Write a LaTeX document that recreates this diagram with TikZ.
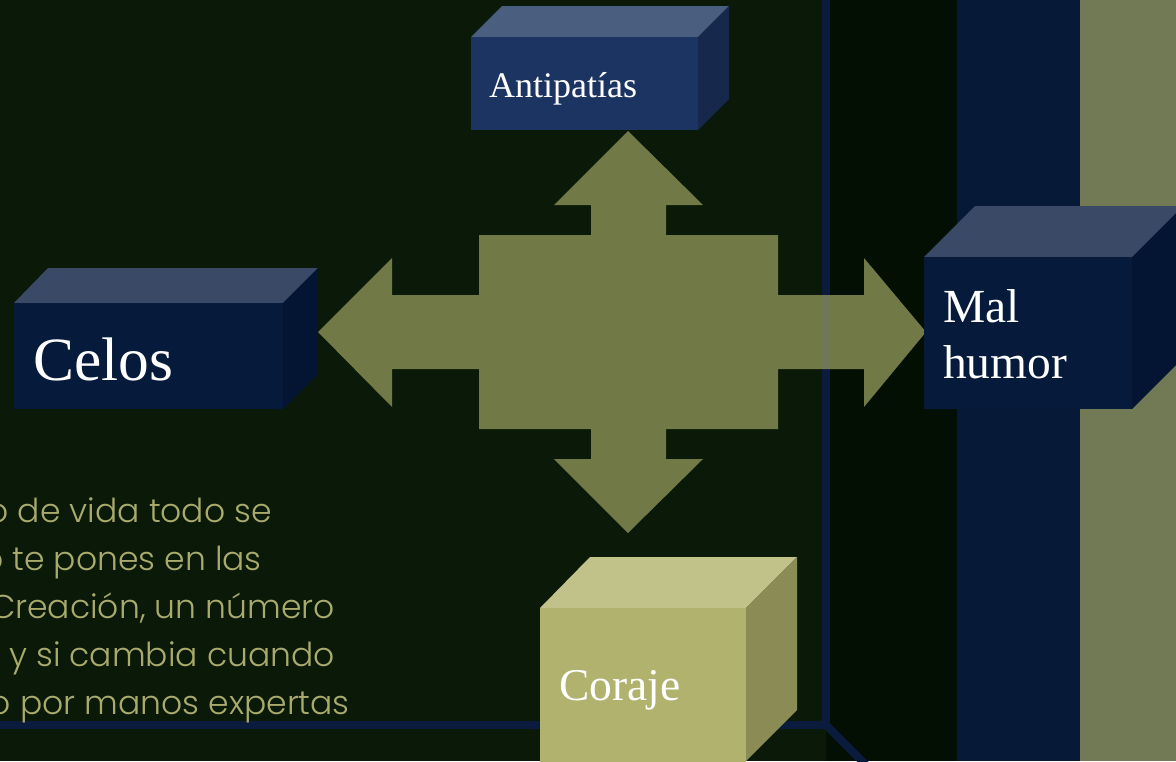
\documentclass[tikz,border=0pt]{standalone}
\usepackage{fontspec}
\newfontfamily\bodyfont{Poppins Light}
\newfontfamily\headfont{Liberation Serif}
\definecolor{bggreen}{HTML}{0A1908}
\definecolor{bgdark}{HTML}{040F04}
\definecolor{lineblue}{HTML}{0A1B3E}
\definecolor{stripeblue}{HTML}{061A38}
\definecolor{stripeolive}{HTML}{727A55}
\definecolor{arrowol}{HTML}{717946}
\definecolor{arrowline}{HTML}{6F7756}
\definecolor{bodytxt}{HTML}{A9AB6C}
\definecolor{aFront}{HTML}{1B3461}
\definecolor{aTop}{HTML}{4A5E80}
\definecolor{aSide}{HTML}{16294D}
\definecolor{nFront}{HTML}{061A3B}
\definecolor{nTop}{HTML}{3A4A66}
\definecolor{nSide}{HTML}{041533}
\definecolor{cFront}{HTML}{B0B26E}
\definecolor{cTop}{HTML}{C0C28A}
\definecolor{cSide}{HTML}{8B8C55}
\tikzset{
  boxlabel/.style={text=white, inner sep=0pt, anchor=base west, font=\headfont},
  bodyline/.style={text=bodytxt, inner sep=0pt, anchor=base east, font=\bodyfont\fontsize{33}{40}\selectfont},
  frameline/.style={draw=lineblue, line width=8pt},
}
\begin{document}
\begin{tikzpicture}[x=1pt,y=-1pt]
\useasboundingbox (0,0) rectangle (1176,761);
\clip (0,0) rectangle (1176,761);
% backgrounds
\fill[bggreen] (0,0) rectangle (1176,761);
\fill[bgdark] (826,0) rectangle (957,761);
\fill[stripeblue] (957,0) rectangle (1080,761);
\fill[stripeolive] (1080,0) rectangle (1176,761);
% frame lines
\coordinate (ftop) at (826,-5);
\coordinate (fcorner) at (826,725);
\coordinate (fleft) at (-5,725);
\coordinate (fdiag) at (880,779);
\draw[frameline] (ftop) -- (fcorner) -- (fleft);
\draw[frameline] (fcorner) -- (fdiag);
% body text
\node[bodyline] (t1) at (272,522) {o de vida todo se};
\node[bodyline] (t2) at (262,570) {o te pones en las};
\node[bodyline] (t3) at (335,618) {Creación, un número};
\node[bodyline] (t4) at (335,666) {y si cambia cuando};
\node[bodyline] (t5) at (350,714) {o por manos expertas};
% cross arrow
\fill[arrowol]
  (628,131) -- (703,205) -- (666,205) -- (666,235) -- (778,235) -- (778,295)
  -- (864,295) -- (864,258) -- (926,332) -- (864,407) -- (864,369) -- (778,369)
  -- (778,429) -- (666,429) -- (666,459) -- (703,459) -- (628,533) -- (554,459)
  -- (591,459) -- (591,429) -- (479,429) -- (479,369) -- (392,369) -- (392,407)
  -- (318,332) -- (392,258) -- (392,295) -- (479,295) -- (479,235) -- (591,235)
  -- (591,205) -- (554,205) -- cycle;
\coordinate (lineA) at (826,295);
\coordinate (lineB) at (826,369);
\draw[draw=arrowline, line width=8pt] (lineA) -- (lineB);
% Antipatias box
\fill[aTop] (471,37) -- (502,6) -- (729,6) -- (698,37) -- cycle;
\fill[aSide] (698,37) -- (729,6) -- (729,99) -- (698,130) -- cycle;
\fill[aFront] (471,37) rectangle (698,130);
\node[boxlabel, font=\headfont\fontsize{36}{42}\selectfont] (anti) at (489,97) {Antipatías};
% Celos box
\fill[nTop] (14,303) -- (48,268) -- (318,268) -- (283,303) -- cycle;
\fill[nSide] (283,303) -- (318,268) -- (318,374) -- (283,409) -- cycle;
\fill[nFront] (14,303) rectangle (283,409);
\node[boxlabel, font=\headfont\fontsize{61.5}{70}\selectfont] (celos) at (33,380) {Celos};
% Mal humor box
\fill[nTop] (924,257) -- (975,206) -- (1183,206) -- (1132,257) -- cycle;
\fill[nSide] (1132,257) -- (1183,206) -- (1183,358) -- (1132,409) -- cycle;
\fill[nFront] (924,257) rectangle (1132,409);
\node[boxlabel, font=\headfont\fontsize{47.5}{56}\selectfont] (mal) at (943,322) {Mal};
\node[boxlabel, font=\headfont\fontsize{47.5}{56}\selectfont] (humor) at (943,378) {humor};
% Coraje box
\fill[cTop] (540,608) -- (590,557) -- (797,557) -- (746,608) -- cycle;
\fill[cSide] (746,608) -- (797,557) -- (797,710) -- (746,761) -- cycle;
\fill[cFront] (540,608) rectangle (746,770);
\node[boxlabel, font=\headfont\fontsize{45.5}{50}\selectfont] (coraje) at (559,700) {Coraje};
\end{tikzpicture}
\end{document}
